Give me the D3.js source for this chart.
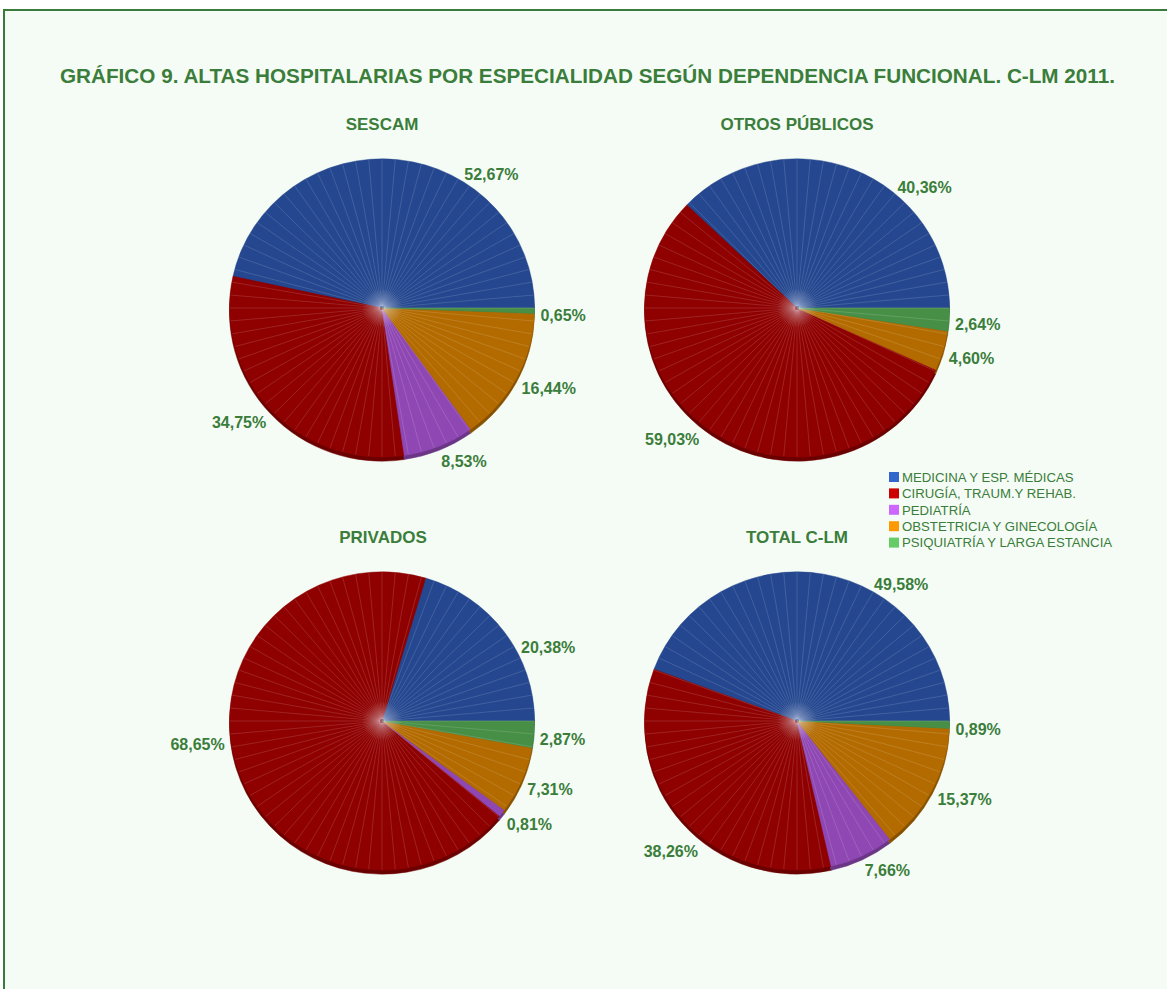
<!DOCTYPE html>
<html>
<head>
<meta charset="utf-8">
<script src="https://cdn.jsdelivr.net/npm/d3@7"></script>
<style>
  html, body { margin: 0; padding: 0; background: #ffffff; }
  svg { display: block; }
</style>
</head>
<body>
<svg id="chart" width="1167" height="989"></svg>
<script>
// ---------- DATA ----------
const chartTitle = "GRÁFICO 9. ALTAS HOSPITALARIAS POR ESPECIALIDAD SEGÚN DEPENDENCIA FUNCIONAL. C-LM 2011.";
const categories = [
  "MEDICINA Y ESP. MÉDICAS",
  "CIRUGÍA, TRAUM.Y REHAB.",
  "PEDIATRÍA",
  "OBSTETRICIA Y GINECOLOGÍA",
  "PSIQUIATRÍA Y LARGA ESTANCIA"
];
const panelTitles = ["SESCAM", "OTROS PÚBLICOS", "PRIVADOS", "TOTAL C-LM"];
const sescam        = [52.67, 34.75, 8.53, 16.44, 0.65];
const otrosPublicos = [40.36, 59.03, 0, 4.60, 2.64];
const privados      = [20.38, 68.65, 0.81, 7.31, 2.87];
const totalCLM      = [49.58, 38.26, 7.66, 15.37, 0.89];
const seriesValues = [sescam, otrosPublicos, privados, totalCLM];

// ---------- STYLE / LAYOUT ----------
const legendColors = ["#3366CC", "#CC0000", "#CC66FF", "#FF9900", "#66CC66"];
const green = "#3b7d3b";
const W = 1167, H = 989;
const panels = [
  { cx: 382, cy: 308, tx: 382, ty: 130, nudge: {} },
  { cx: 797, cy: 308, tx: 797, ty: 130, nudge: { 0: 3, 1: 4 } },
  { cx: 382, cy: 721, tx: 383, ty: 543, nudge: { 0: 3 } },
  { cx: 797, cy: 721, tx: 797, ty: 543, nudge: { 0: 5, 1: 10 } }
];
const R = 152.5, squash = 0.978, depth = 4;
const labelRx = R + 6, labelRy = (R + 9) * squash * 1.02;
const font = "Liberation Sans, Arial, sans-serif";

const svg = d3.select("#chart");
const defs = svg.append("defs");
const glow = defs.append("radialGradient").attr("id", "glow");
glow.append("stop").attr("offset", "0%").attr("stop-color", "#dfe8ff").attr("stop-opacity", 0.35);
glow.append("stop").attr("offset", "100%").attr("stop-color", "#ffffff").attr("stop-opacity", 0);

// background frame
svg.append("rect").attr("x", 4).attr("y", 10).attr("width", W + 20).attr("height", H + 20)
  .attr("fill", "#f5fcf5").attr("stroke", "#3a7a3a").attr("stroke-width", 2);

// title
svg.append("text").attr("x", 587.5).attr("y", 83).attr("text-anchor", "middle")
  .attr("font-family", font).attr("font-weight", "bold")
  .attr("font-size", 20.5).attr("textLength", 1055).attr("lengthAdjust", "spacingAndGlyphs")
  .attr("fill", green).text(chartTitle);

const color = d3.scaleOrdinal().domain(categories).range(legendColors);
const pie = d3.pie().sort(null).value(d => d.v)
  .startAngle(Math.PI / 2).endAngle(Math.PI / 2 - 2 * Math.PI);
const arc = d3.arc().innerRadius(0).outerRadius(R);
const fmt = v => d3.format(".2f")(v).replace(".", ",") + "%";

seriesValues.forEach((vals, pi) => {
  const p = panels[pi];
  const data = vals.map((v, i) => ({ v, cat: categories[i] }));
  const arcs = pie(data).filter(a => a.data.v > 0);

  svg.append("text").attr("x", p.tx).attr("y", p.ty).attr("text-anchor", "middle")
    .attr("font-family", font).attr("font-weight", "bold")
    .attr("font-size", 17).attr("fill", green).text(panelTitles[pi]);

  // depth layer
  const gd = svg.append("g").attr("transform", `translate(${p.cx},${p.cy + depth}) scale(1,${squash})`);
  gd.selectAll("path").data(arcs).join("path")
    .attr("d", arc).attr("fill", d => d3.color(color(d.data.cat)).darker(1.8))
    .attr("stroke", d => d3.color(color(d.data.cat)).darker(1.8)).attr("stroke-width", 0.5);

  const g = svg.append("g").attr("transform", `translate(${p.cx},${p.cy}) scale(1,${squash})`);
  g.selectAll("path.slice").data(arcs).join("path").attr("class", "slice")
    .attr("d", arc).attr("fill", d => d3.color(color(d.data.cat)).darker(1))
    .attr("stroke", d => d3.color(color(d.data.cat)).darker(1)).attr("stroke-width", 0.5);

  // radial texture lines
  const angles = d3.range(0, 360, 5).map(a => a * Math.PI / 180);
  g.selectAll("line.rad").data(angles).join("line").attr("class", "rad")
    .attr("x1", a => Math.cos(a) * 2).attr("y1", a => Math.sin(a) * 2)
    .attr("x2", a => Math.cos(a) * (R - 0.5)).attr("y2", a => Math.sin(a) * (R - 0.5))
    .attr("stroke", "#ffffff").attr("stroke-opacity", 0.2).attr("stroke-width", 0.7);

  g.append("circle").attr("r", 20).attr("fill", "url(#glow)");

  // labels
  arcs.forEach(a => {
    const span = a.startAngle - a.endAngle; // positive (going ccw)
    let f = 0.5;
    if (a.index === 0) f = 0.35;
    else if (span > Math.PI) f = 0.46;
    const ang = a.startAngle - f * span - ((p.nudge[a.index] || 0) * Math.PI / 180);
    const sx = Math.sin(ang), cy = -Math.cos(ang);
    const x = p.cx + sx * labelRx;
    const y = p.cy + 4 + cy * labelRy;
    svg.append("text").attr("x", x).attr("y", y).attr("dy", "0.36em")
      .attr("text-anchor", sx >= 0 ? "start" : "end")
      .attr("font-family", font).attr("font-weight", "bold")
      .attr("font-size", 16).attr("fill", green).text(fmt(a.data.v));
  });
});

// legend
const lg = svg.append("g").attr("transform", "translate(889,472)");
categories.forEach((c, i) => {
  const row = lg.append("g").attr("transform", `translate(0,${i * 16.4})`);
  row.append("rect").attr("width", 10).attr("height", 10).attr("fill", color(c));
  row.append("text").attr("x", 13).attr("y", 9.8)
    .attr("font-family", font)
    .attr("font-size", 13.2).attr("fill", green).text(c);
});
</script>
</body>
</html>
